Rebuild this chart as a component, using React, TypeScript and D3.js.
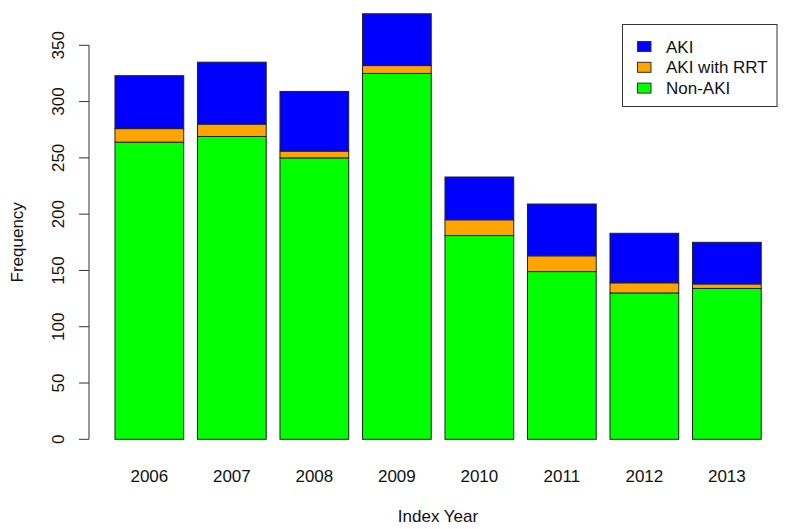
import * as d3 from "d3";

const years = ["2006", "2007", "2008", "2009", "2010", "2011", "2012", "2013"];
const nonAki = [264, 269, 250, 325, 181, 149, 130, 134];
const akiRrt = [12, 11, 6, 7, 14, 14, 9, 4];
const aki = [47, 55, 53, 46, 38, 46, 44, 37];
const yTicks = [0, 50, 100, 150, 200, 250, 300, 350];

const seriesKeys = ["nonAki", "akiRrt", "aki"];
const colors: Record<string, string> = { nonAki: "#00ff00", akiRrt: "#ffa500", aki: "#0000ff" };
const legendItems = [
  { key: "aki", label: "AKI" },
  { key: "akiRrt", label: "AKI with RRT" },
  { key: "nonAki", label: "Non-AKI" },
];

const width = 798;
const height = 529;
const font = "'Liberation Sans', Arial, sans-serif";

export default function App() {
  const rows = years.map((year, i) => ({ year, nonAki: nonAki[i], akiRrt: akiRrt[i], aki: aki[i] }));
  const stacked = d3.stack<any>().keys(seriesKeys)(rows);

  const x = d3.scaleBand<string>()
    .domain(years)
    .range([108.1, 768.1])
    .paddingInner(1 / 6)
    .paddingOuter(1 / 12);

  const y = d3.scaleLinear().domain([0, 350]).range([439.3, 45.3]);
  const axisX = 89;

  return (
    <svg width={width} height={height} style={{ position: "absolute", left: 0, top: 0, background: "#fff" }}
      fontFamily={font}>
      {/* y axis */}
      <g stroke="#333" strokeWidth={1}>
        <line x1={axisX} x2={axisX} y1={y(0)} y2={y(350)} />
        {yTicks.map(t => (
          <line key={t} x1={axisX - 10} x2={axisX} y1={y(t)} y2={y(t)} />
        ))}
      </g>
      {yTicks.map(t => (
        <text key={t} transform={`translate(63.5,${y(t)}) rotate(-90)`} textAnchor="middle"
          fontSize={17} fill="#111">{t}</text>
      ))}
      <text transform={`translate(23,${(y(0) + y(350)) / 2}) rotate(-90)`} textAnchor="middle"
        fontSize={17} fill="#111">Frequency</text>

      {/* bars */}
      {stacked.map(s => (
        <g key={s.key} fill={colors[s.key]} stroke="#222" strokeWidth={1}>
          {s.map((d, i) => (
            <rect key={i} x={x(years[i])} width={x.bandwidth()} y={y(d[1])} height={y(d[0]) - y(d[1])} />
          ))}
        </g>
      ))}

      {/* x labels */}
      {years.map(yr => (
        <text key={yr} x={(x(yr) ?? 0) + x.bandwidth() / 2} y={482} textAnchor="middle"
          fontSize={17} fill="#111">{yr}</text>
      ))}
      <text x={438} y={522} textAnchor="middle" fontSize={17} fill="#111">Index Year</text>

      {/* legend */}
      <rect x={622.5} y={24.5} width={154.5} height={82} fill="#fff" stroke="#333" />
      {legendItems.map((it, i) => (
        <g key={it.key}>
          <rect x={637.5} y={41.5 + i * 20.8} width={13.5} height={10} fill={colors[it.key]} stroke="#333" />
          <text x={666} y={52.5 + i * 20.8} fontSize={17} fill="#111">{it.label}</text>
        </g>
      ))}
    </svg>
  );
}
